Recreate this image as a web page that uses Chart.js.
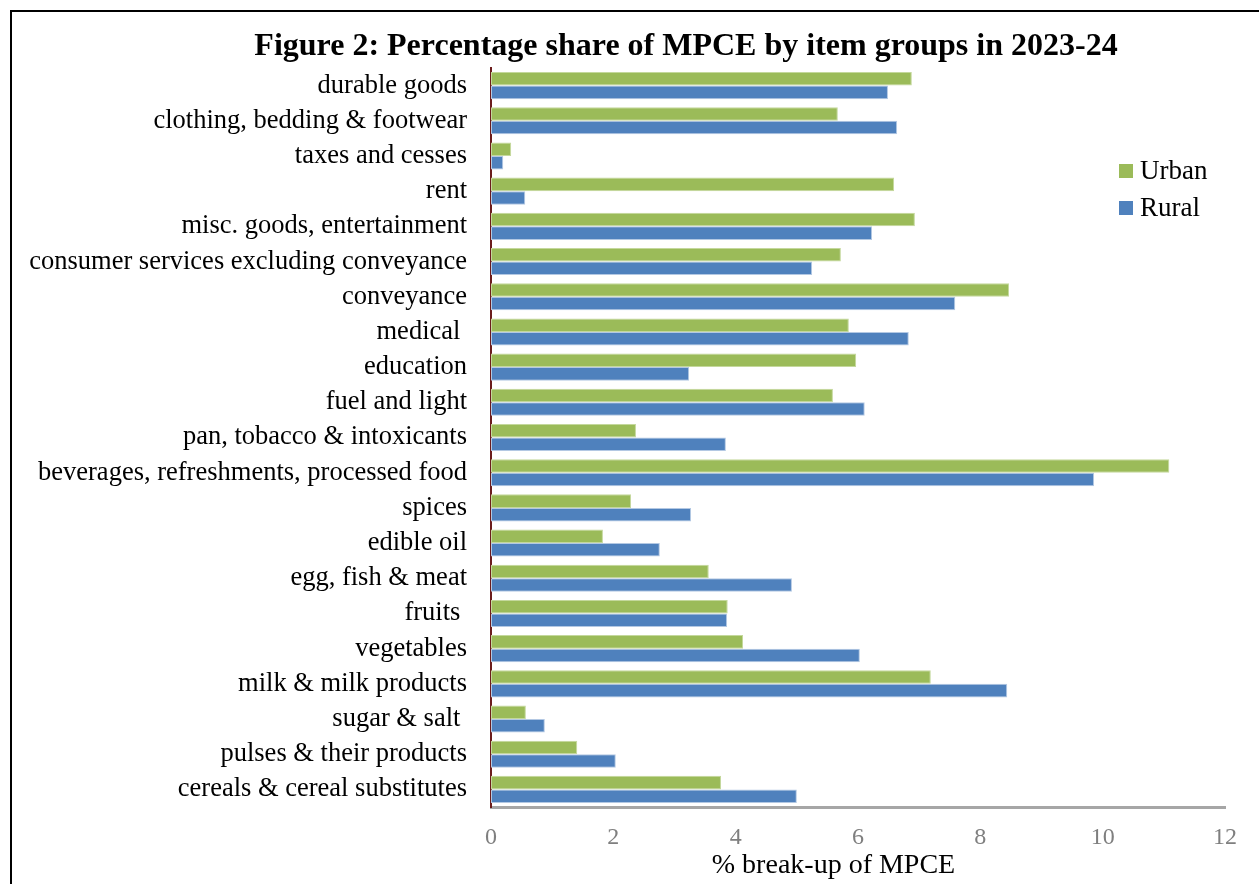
<!DOCTYPE html>
<html>
<head>
<meta charset="utf-8">
<script src="https://cdn.jsdelivr.net/npm/chart.js@4.4.1/dist/chart.umd.min.js"></script>
<style>
    html, body { margin: 0; padding: 0; background: #fff; overflow: hidden; }
    #frame {
        position: absolute; left: 10px; top: 10px;
        width: 1350px; height: 900px;
        border: 2px solid #000; background: #fff;
    }
    #mpce { display: block; }
</style>
</head>
<body>
<div id="frame">
    <canvas id="mpce" width="1348" height="868"></canvas>
</div>
<script>
const categories = [
    'durable goods',
    'clothing, bedding & footwear',
    'taxes and cesses',
    'rent',
    'misc. goods, entertainment',
    'consumer services excluding conveyance',
    'conveyance',
    'medical ',
    'education',
    'fuel and light',
    'pan, tobacco & intoxicants',
    'beverages, refreshments, processed food',
    'spices',
    'edible oil',
    'egg, fish & meat',
    'fruits ',
    'vegetables',
    'milk & milk products',
    'sugar & salt ',
    'pulses & their products',
    'cereals & cereal substitutes'
];
const urban = [6.88, 5.67, 0.33, 6.59, 6.93, 5.72, 8.47, 5.85, 5.97, 5.59, 2.37, 11.09, 2.29, 1.83, 3.56, 3.87, 4.12, 7.19, 0.57, 1.41, 3.76];
const rural = [6.49, 6.64, 0.20, 0.56, 6.23, 5.25, 7.59, 6.83, 3.24, 6.11, 3.84, 9.86, 3.27, 2.76, 4.92, 3.86, 6.03, 8.44, 0.88, 2.04, 5.00];
const xTicks = [0, 2, 4, 6, 8, 10, 12];

const figureTitle = 'Figure 2: Percentage share of MPCE by item groups in 2023-24';
const serif = "'Liberation Serif', 'Times New Roman', serif";

// heading centred on the whole frame rather than on the plot
const frameTitle = {
    id: 'frameTitle',
    afterDraw(chart) {
        const ctx = chart.ctx;
        ctx.save();
        ctx.font = 'bold 32px ' + serif;
        ctx.fillStyle = '#000';
        ctx.textAlign = 'center';
        ctx.textBaseline = 'middle';
        ctx.fillText(figureTitle, chart.width / 2, 35);
        ctx.restore();
    }
};

// legend drawn as a small vertical list inside the plot area, top right
const sideLegend = {
    id: 'sideLegend',
    afterDraw(chart) {
        const ctx = chart.ctx;
        ctx.save();
        ctx.font = '27px ' + serif;
        ctx.textBaseline = 'middle';
        chart.data.datasets.forEach((ds, i) => {
            const y = 159 + i * 37;
            ctx.fillStyle = ds.backgroundColor;
            ctx.fillRect(1107, y - 7, 14, 14);
            ctx.fillStyle = '#000';
            ctx.fillText(ds.label, 1128, y + 1);
        });
        ctx.restore();
    }
};

new Chart(document.getElementById('mpce').getContext('2d'), {
    type: 'bar',
    data: {
        labels: categories,
        datasets: [{
            label: 'Urban',
            data: urban,
            backgroundColor: '#9bbb59',
            borderColor: '#c4d89c',
            borderWidth: 1,
            borderSkipped: false
        }, {
            label: 'Rural',
            data: rural,
            backgroundColor: '#4f81bd',
            borderColor: '#b3c8e3',
            borderWidth: 1,
            borderSkipped: false
        }]
    },
    options: {
        indexAxis: 'y',
        responsive: false,
        animation: false,
        categoryPercentage: 0.77,
        barPercentage: 1.0,
        layout: { padding: { left: 0, right: 135, top: 56, bottom: 0 } },
        plugins: {
            legend: { display: false },
            tooltip: { enabled: false },
            title: { display: false }
        },
        scales: {
            x: {
                min: 0,
                max: 12,
                afterBuildTicks: scale => { scale.ticks = xTicks.map(v => ({ value: v })); },
                grid: { display: false, drawTicks: false },
                border: { display: true, color: '#a6a6a6', width: 3 },
                ticks: {
                    color: '#7f7f7f',
                    font: { family: serif, size: 24, lineHeight: 1 },
                    padding: 19
                },
                title: {
                    display: true,
                    text: '% break-up of MPCE' + '\u00a0'.repeat(7),
                    color: '#000',
                    font: { family: serif, size: 28, lineHeight: 1 },
                    padding: { top: 4, bottom: 0 }
                },
                afterFit: scale => { scale.height = 73; }
            },
            y: {
                grid: { display: false, drawTicks: false },
                border: { display: true, color: '#6b1c1c', width: 2, dash: [2, 2] },
                ticks: {
                    color: '#000',
                    font: { family: serif, size: 26.5 },
                    padding: 24,
                    autoSkip: false
                },
                afterFit: scale => { scale.width = 479; }
            }
        }
    },
    plugins: [frameTitle, sideLegend]
});
</script>
</body>
</html>
